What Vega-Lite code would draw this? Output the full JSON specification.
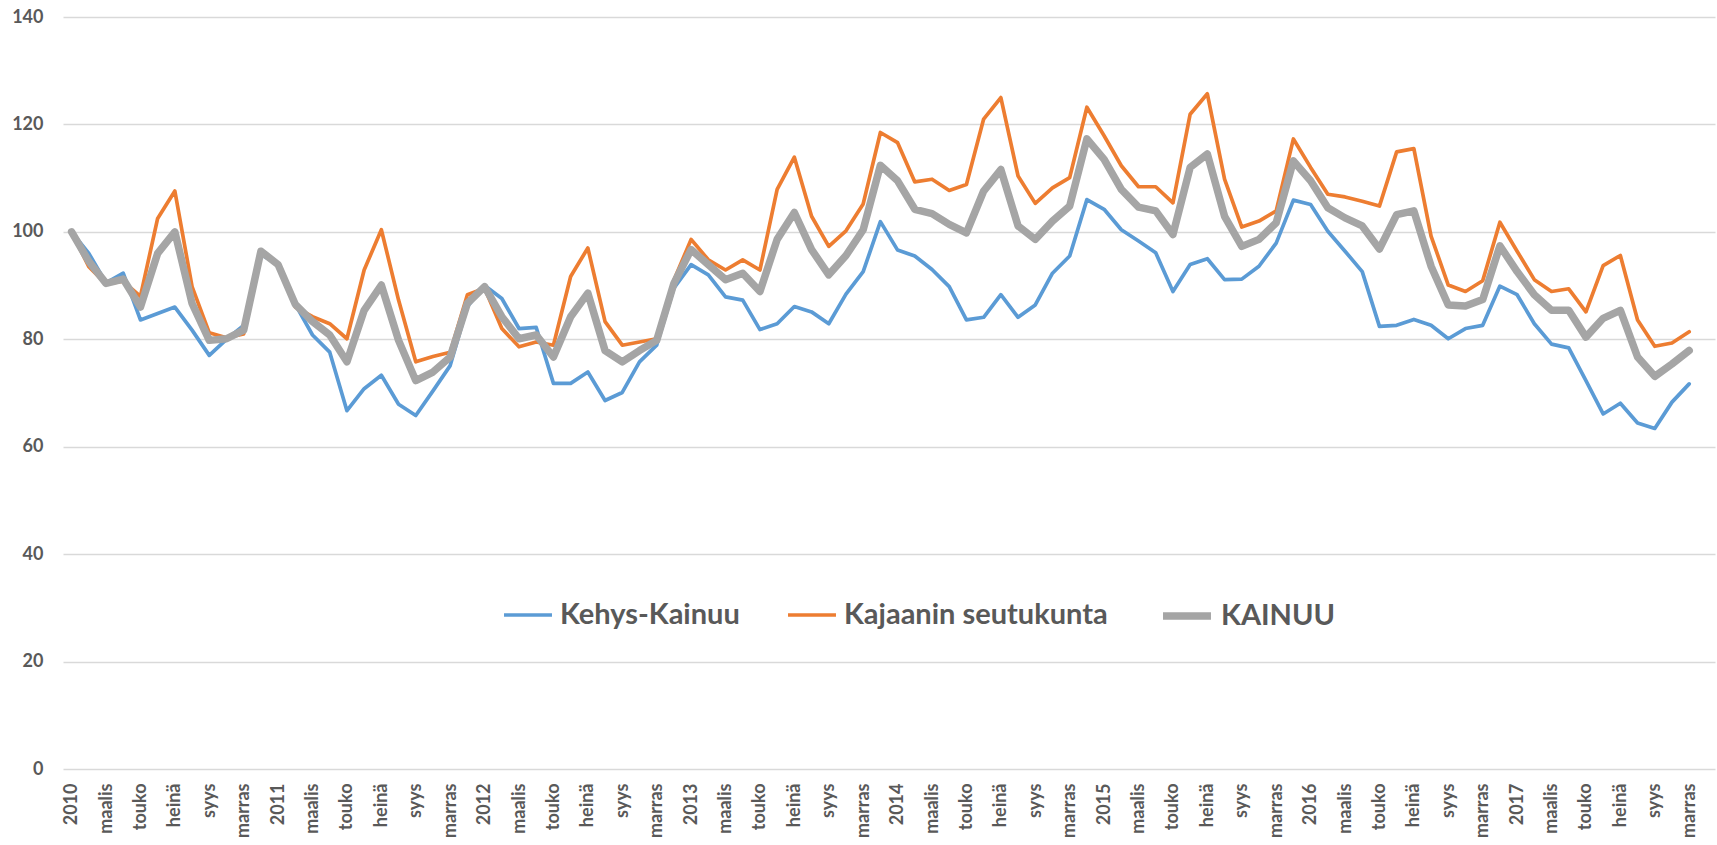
{
  "$schema": "https://vega.github.io/schema/vega-lite/v6.json",
  "width": 1652,
  "height": 752,
  "autosize": {"type": "none"},
  "padding": {"left": 63, "top": 17, "right": 2, "bottom": 76},
  "background": "white",
  "config": {"view": {"stroke": null}, "font": "Lato"},
  "data": {"values": [
    {"m":"2010-01","Kehys-Kainuu":100,"Kajaanin seutukunta":100,"KAINUU":100},
    {"m":"2010-02","Kehys-Kainuu":96,"Kajaanin seutukunta":93.5,"KAINUU":94.5},
    {"m":"2010-03","Kehys-Kainuu":90.5,"Kajaanin seutukunta":90.3,"KAINUU":90.4},
    {"m":"2010-04","Kehys-Kainuu":92.3,"Kajaanin seutukunta":90.8,"KAINUU":91.2},
    {"m":"2010-05","Kehys-Kainuu":83.6,"Kajaanin seutukunta":88,"KAINUU":86},
    {"m":"2010-06","Kehys-Kainuu":84.8,"Kajaanin seutukunta":102.5,"KAINUU":96},
    {"m":"2010-07","Kehys-Kainuu":86,"Kajaanin seutukunta":107.6,"KAINUU":100},
    {"m":"2010-08","Kehys-Kainuu":81.7,"Kajaanin seutukunta":89.8,"KAINUU":86.7},
    {"m":"2010-09","Kehys-Kainuu":77,"Kajaanin seutukunta":81.2,"KAINUU":79.8},
    {"m":"2010-10","Kehys-Kainuu":80,"Kajaanin seutukunta":80.3,"KAINUU":80.1},
    {"m":"2010-11","Kehys-Kainuu":82.6,"Kajaanin seutukunta":81,"KAINUU":81.7},
    {"m":"2010-12","Kehys-Kainuu":95.8,"Kajaanin seutukunta":96.5,"KAINUU":96.4},
    {"m":"2011-01","Kehys-Kainuu":93.9,"Kajaanin seutukunta":93.9,"KAINUU":93.9},
    {"m":"2011-02","Kehys-Kainuu":86.5,"Kajaanin seutukunta":86,"KAINUU":86.5},
    {"m":"2011-03","Kehys-Kainuu":80.8,"Kajaanin seutukunta":84.2,"KAINUU":83.3},
    {"m":"2011-04","Kehys-Kainuu":77.6,"Kajaanin seutukunta":82.9,"KAINUU":80.8},
    {"m":"2011-05","Kehys-Kainuu":66.7,"Kajaanin seutukunta":80.1,"KAINUU":75.8},
    {"m":"2011-06","Kehys-Kainuu":70.8,"Kajaanin seutukunta":92.9,"KAINUU":85.4},
    {"m":"2011-07","Kehys-Kainuu":73.3,"Kajaanin seutukunta":100.4,"KAINUU":90.1},
    {"m":"2011-08","Kehys-Kainuu":67.9,"Kajaanin seutukunta":87.3,"KAINUU":79.8},
    {"m":"2011-09","Kehys-Kainuu":65.8,"Kajaanin seutukunta":75.8,"KAINUU":72.3},
    {"m":"2011-10","Kehys-Kainuu":70.4,"Kajaanin seutukunta":76.8,"KAINUU":73.9},
    {"m":"2011-11","Kehys-Kainuu":75.1,"Kajaanin seutukunta":77.6,"KAINUU":76.7},
    {"m":"2011-12","Kehys-Kainuu":86.1,"Kajaanin seutukunta":88.3,"KAINUU":86.7},
    {"m":"2012-01","Kehys-Kainuu":90,"Kajaanin seutukunta":89.5,"KAINUU":89.8},
    {"m":"2012-02","Kehys-Kainuu":87.6,"Kajaanin seutukunta":82,"KAINUU":84.2},
    {"m":"2012-03","Kehys-Kainuu":82,"Kajaanin seutukunta":78.6,"KAINUU":80.1},
    {"m":"2012-04","Kehys-Kainuu":82.2,"Kajaanin seutukunta":79.5,"KAINUU":80.8},
    {"m":"2012-05","Kehys-Kainuu":71.8,"Kajaanin seutukunta":78.9,"KAINUU":76.7},
    {"m":"2012-06","Kehys-Kainuu":71.8,"Kajaanin seutukunta":91.7,"KAINUU":84.2},
    {"m":"2012-07","Kehys-Kainuu":73.9,"Kajaanin seutukunta":97,"KAINUU":88.6},
    {"m":"2012-08","Kehys-Kainuu":68.6,"Kajaanin seutukunta":83.3,"KAINUU":77.9},
    {"m":"2012-09","Kehys-Kainuu":70.1,"Kajaanin seutukunta":78.9,"KAINUU":75.8},
    {"m":"2012-10","Kehys-Kainuu":75.8,"Kajaanin seutukunta":79.5,"KAINUU":77.9},
    {"m":"2012-11","Kehys-Kainuu":78.9,"Kajaanin seutukunta":80.1,"KAINUU":79.8},
    {"m":"2012-12","Kehys-Kainuu":89.5,"Kajaanin seutukunta":91,"KAINUU":90.4},
    {"m":"2013-01","Kehys-Kainuu":93.9,"Kajaanin seutukunta":98.6,"KAINUU":96.7},
    {"m":"2013-02","Kehys-Kainuu":92,"Kajaanin seutukunta":94.8,"KAINUU":93.9},
    {"m":"2013-03","Kehys-Kainuu":87.9,"Kajaanin seutukunta":92.9,"KAINUU":91.1},
    {"m":"2013-04","Kehys-Kainuu":87.3,"Kajaanin seutukunta":94.8,"KAINUU":92.3},
    {"m":"2013-05","Kehys-Kainuu":81.8,"Kajaanin seutukunta":92.9,"KAINUU":88.9},
    {"m":"2013-06","Kehys-Kainuu":82.9,"Kajaanin seutukunta":107.9,"KAINUU":98.6},
    {"m":"2013-07","Kehys-Kainuu":86.1,"Kajaanin seutukunta":113.9,"KAINUU":103.6},
    {"m":"2013-08","Kehys-Kainuu":85.1,"Kajaanin seutukunta":102.9,"KAINUU":96.7},
    {"m":"2013-09","Kehys-Kainuu":82.9,"Kajaanin seutukunta":97.3,"KAINUU":92},
    {"m":"2013-10","Kehys-Kainuu":88.4,"Kajaanin seutukunta":100.2,"KAINUU":95.6},
    {"m":"2013-11","Kehys-Kainuu":92.6,"Kajaanin seutukunta":105.2,"KAINUU":100.4},
    {"m":"2013-12","Kehys-Kainuu":101.9,"Kajaanin seutukunta":118.5,"KAINUU":112.4},
    {"m":"2014-01","Kehys-Kainuu":96.6,"Kajaanin seutukunta":116.6,"KAINUU":109.5},
    {"m":"2014-02","Kehys-Kainuu":95.5,"Kajaanin seutukunta":109.3,"KAINUU":104.2},
    {"m":"2014-03","Kehys-Kainuu":93,"Kajaanin seutukunta":109.8,"KAINUU":103.4},
    {"m":"2014-04","Kehys-Kainuu":89.8,"Kajaanin seutukunta":107.7,"KAINUU":101.4},
    {"m":"2014-05","Kehys-Kainuu":83.6,"Kajaanin seutukunta":108.8,"KAINUU":99.8},
    {"m":"2014-06","Kehys-Kainuu":84.1,"Kajaanin seutukunta":121,"KAINUU":107.6},
    {"m":"2014-07","Kehys-Kainuu":88.3,"Kajaanin seutukunta":125,"KAINUU":111.6},
    {"m":"2014-08","Kehys-Kainuu":84.1,"Kajaanin seutukunta":110.4,"KAINUU":101.1},
    {"m":"2014-09","Kehys-Kainuu":86.4,"Kajaanin seutukunta":105.3,"KAINUU":98.6},
    {"m":"2014-10","Kehys-Kainuu":92.3,"Kajaanin seutukunta":108.2,"KAINUU":102},
    {"m":"2014-11","Kehys-Kainuu":95.5,"Kajaanin seutukunta":110.1,"KAINUU":104.8},
    {"m":"2014-12","Kehys-Kainuu":106,"Kajaanin seutukunta":123.2,"KAINUU":117.3},
    {"m":"2015-01","Kehys-Kainuu":104.2,"Kajaanin seutukunta":117.9,"KAINUU":113.5},
    {"m":"2015-02","Kehys-Kainuu":100.4,"Kajaanin seutukunta":112.3,"KAINUU":107.9},
    {"m":"2015-03","Kehys-Kainuu":98.3,"Kajaanin seutukunta":108.4,"KAINUU":104.6},
    {"m":"2015-04","Kehys-Kainuu":96.1,"Kajaanin seutukunta":108.4,"KAINUU":103.9},
    {"m":"2015-05","Kehys-Kainuu":88.9,"Kajaanin seutukunta":105.4,"KAINUU":99.5},
    {"m":"2015-06","Kehys-Kainuu":93.9,"Kajaanin seutukunta":121.9,"KAINUU":112},
    {"m":"2015-07","Kehys-Kainuu":95,"Kajaanin seutukunta":125.7,"KAINUU":114.5},
    {"m":"2015-08","Kehys-Kainuu":91.1,"Kajaanin seutukunta":109.8,"KAINUU":102.9},
    {"m":"2015-09","Kehys-Kainuu":91.2,"Kajaanin seutukunta":100.9,"KAINUU":97.3},
    {"m":"2015-10","Kehys-Kainuu":93.6,"Kajaanin seutukunta":102,"KAINUU":98.6},
    {"m":"2015-11","Kehys-Kainuu":97.9,"Kajaanin seutukunta":103.9,"KAINUU":101.7},
    {"m":"2015-12","Kehys-Kainuu":105.9,"Kajaanin seutukunta":117.3,"KAINUU":113.2},
    {"m":"2016-01","Kehys-Kainuu":105.1,"Kajaanin seutukunta":112,"KAINUU":109.5},
    {"m":"2016-02","Kehys-Kainuu":100.1,"Kajaanin seutukunta":107,"KAINUU":104.5},
    {"m":"2016-03","Kehys-Kainuu":96.4,"Kajaanin seutukunta":106.5,"KAINUU":102.6},
    {"m":"2016-04","Kehys-Kainuu":92.6,"Kajaanin seutukunta":105.7,"KAINUU":101.1},
    {"m":"2016-05","Kehys-Kainuu":82.4,"Kajaanin seutukunta":104.8,"KAINUU":96.8},
    {"m":"2016-06","Kehys-Kainuu":82.6,"Kajaanin seutukunta":114.9,"KAINUU":103.2},
    {"m":"2016-07","Kehys-Kainuu":83.7,"Kajaanin seutukunta":115.5,"KAINUU":103.9},
    {"m":"2016-08","Kehys-Kainuu":82.6,"Kajaanin seutukunta":99.2,"KAINUU":93.6},
    {"m":"2016-09","Kehys-Kainuu":80.1,"Kajaanin seutukunta":90.1,"KAINUU":86.4},
    {"m":"2016-10","Kehys-Kainuu":82,"Kajaanin seutukunta":88.9,"KAINUU":86.2},
    {"m":"2016-11","Kehys-Kainuu":82.6,"Kajaanin seutukunta":90.9,"KAINUU":87.4},
    {"m":"2016-12","Kehys-Kainuu":89.9,"Kajaanin seutukunta":101.8,"KAINUU":97.4},
    {"m":"2017-01","Kehys-Kainuu":88.3,"Kajaanin seutukunta":96.4,"KAINUU":92.6},
    {"m":"2017-02","Kehys-Kainuu":82.9,"Kajaanin seutukunta":91.1,"KAINUU":88.3},
    {"m":"2017-03","Kehys-Kainuu":79.1,"Kajaanin seutukunta":88.9,"KAINUU":85.4},
    {"m":"2017-04","Kehys-Kainuu":78.4,"Kajaanin seutukunta":89.4,"KAINUU":85.4},
    {"m":"2017-05","Kehys-Kainuu":72.3,"Kajaanin seutukunta":85.1,"KAINUU":80.4},
    {"m":"2017-06","Kehys-Kainuu":66.1,"Kajaanin seutukunta":93.7,"KAINUU":83.9},
    {"m":"2017-07","Kehys-Kainuu":68.1,"Kajaanin seutukunta":95.6,"KAINUU":85.4},
    {"m":"2017-08","Kehys-Kainuu":64.4,"Kajaanin seutukunta":83.6,"KAINUU":76.7},
    {"m":"2017-09","Kehys-Kainuu":63.4,"Kajaanin seutukunta":78.7,"KAINUU":73.1},
    {"m":"2017-10","Kehys-Kainuu":68.3,"Kajaanin seutukunta":79.3,"KAINUU":75.4},
    {"m":"2017-11","Kehys-Kainuu":71.7,"Kajaanin seutukunta":81.4,"KAINUU":77.9}
  ]},
  "transform": [
    {"fold": ["Kehys-Kainuu", "Kajaanin seutukunta", "KAINUU"], "as": ["series", "value"]}
  ],
  "mark": {"type": "line", "strokeJoin": "round", "strokeCap": "round"},
  "encoding": {
    "x": {
      "field": "m", "type": "ordinal",
      "scale": {"type": "point", "padding": 0.5, "domain": [
        "2010-01","2010-02","2010-03","2010-04","2010-05","2010-06","2010-07","2010-08","2010-09","2010-10","2010-11","2010-12",
        "2011-01","2011-02","2011-03","2011-04","2011-05","2011-06","2011-07","2011-08","2011-09","2011-10","2011-11","2011-12",
        "2012-01","2012-02","2012-03","2012-04","2012-05","2012-06","2012-07","2012-08","2012-09","2012-10","2012-11","2012-12",
        "2013-01","2013-02","2013-03","2013-04","2013-05","2013-06","2013-07","2013-08","2013-09","2013-10","2013-11","2013-12",
        "2014-01","2014-02","2014-03","2014-04","2014-05","2014-06","2014-07","2014-08","2014-09","2014-10","2014-11","2014-12",
        "2015-01","2015-02","2015-03","2015-04","2015-05","2015-06","2015-07","2015-08","2015-09","2015-10","2015-11","2015-12",
        "2016-01","2016-02","2016-03","2016-04","2016-05","2016-06","2016-07","2016-08","2016-09","2016-10","2016-11","2016-12",
        "2017-01","2017-02","2017-03","2017-04","2017-05","2017-06","2017-07","2017-08","2017-09","2017-10","2017-11","2017-12"
      ]},
      "axis": {
        "title": null,
        "labelAngle": -90,
        "labelAlign": "right",
        "labelBaseline": "middle",
        "labelPadding": 14,
        "labelOverlap": false,
        "labelFontSize": 18,
        "labelFontWeight": "bold",
        "labelColor": "#595959",
        "ticks": false,
        "domain": false,
        "grid": false,
        "labelExpr": "substring(datum.value,5,7)=='01' ? substring(datum.value,0,4) : substring(datum.value,5,7)=='03' ? 'maalis' : substring(datum.value,5,7)=='05' ? 'touko' : substring(datum.value,5,7)=='07' ? 'heinä' : substring(datum.value,5,7)=='09' ? 'syys' : substring(datum.value,5,7)=='11' ? 'marras' : ''"
      }
    },
    "y": {
      "field": "value", "type": "quantitative",
      "scale": {"domain": [0, 140], "nice": false, "zero": true},
      "axis": {
        "title": null,
        "values": [0, 20, 40, 60, 80, 100, 120, 140],
        "grid": true,
        "gridColor": "#D9D9D9",
        "gridWidth": 1.3,
        "domain": false,
        "ticks": false,
        "labelPadding": 20,
        "labelFontSize": 18,
        "labelFontWeight": "bold",
        "labelColor": "#595959"
      }
    },
    "color": {
      "field": "series", "type": "nominal",
      "scale": {"domain": ["Kehys-Kainuu", "Kajaanin seutukunta", "KAINUU"], "range": ["#5B9BD5", "#ED7D31", "#A5A5A5"]},
      "legend": {
        "title": null,
        "orient": "none",
        "direction": "horizontal",
        "legendX": 439,
        "legendY": 571,
        "symbolType": "stroke",
        "symbolSize": 2300,
        "labelFontSize": 29,
        "labelFontWeight": "bold",
        "labelColor": "#595959",
        "labelOffset": 6,
        "columnPadding": 40,
        "labelLimit": 600
      }
    },
    "strokeWidth": {
      "field": "series", "type": "ordinal",
      "scale": {"type": "ordinal", "domain": ["Kehys-Kainuu", "Kajaanin seutukunta", "KAINUU"], "range": [3.7, 3.7, 7.5]},
      "legend": {
        "title": null,
        "orient": "none",
        "direction": "horizontal",
        "legendX": 439,
        "legendY": 571,
        "symbolType": "stroke",
        "symbolSize": 2300,
        "labelFontSize": 29,
        "labelFontWeight": "bold",
        "labelColor": "#595959",
        "labelOffset": 6,
        "columnPadding": 40,
        "labelLimit": 600
      }
    }
  }
}
